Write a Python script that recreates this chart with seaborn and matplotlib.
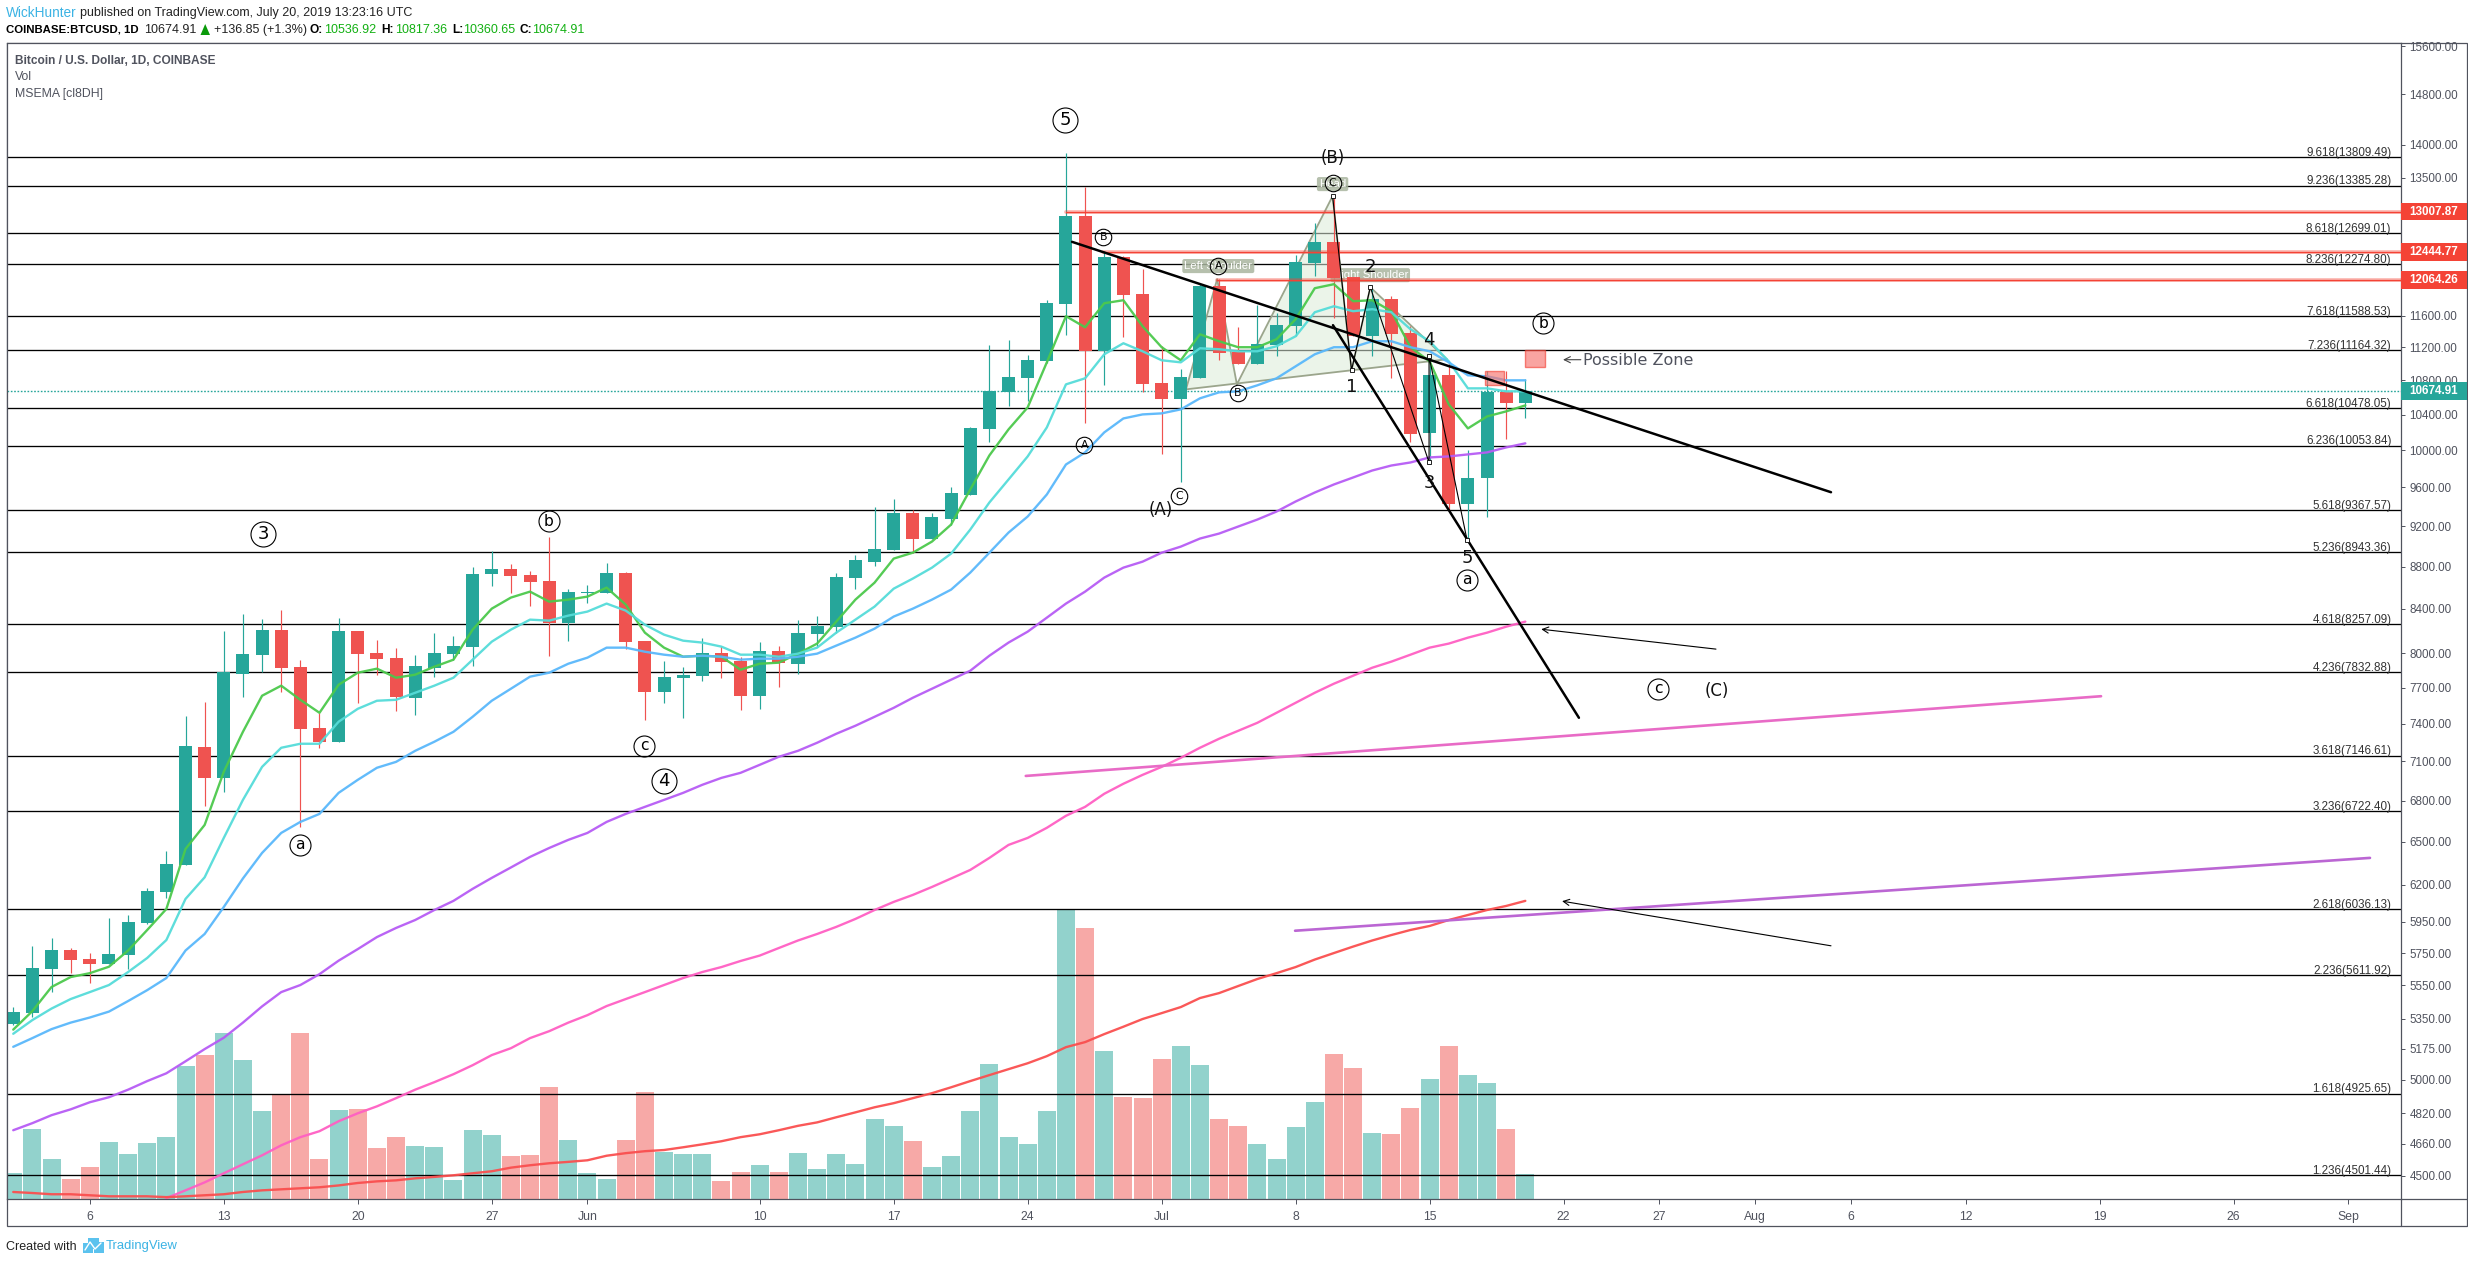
import numpy as np
import pandas as pd
import matplotlib
matplotlib.use("Agg")
import matplotlib.pyplot as plt
from matplotlib.patches import Rectangle, Polygon
from matplotlib.transforms import blended_transform_factory
import seaborn as sns

# ---- data: day number counted from 1 May 2019 = 1 (Jun d = 31+d, Jul d = 61+d ...)
days = list(range(2, 82))
opens = [5315,5383,5652,5772,5715,5683,5740,5941,6150,6336,7216,6973,7821,7986,8209,7881,7368,7256,8200,8004,
         7960,7616,7872,7995,8057,8732,8780,8722,8665,8273,8551,8551,8741,8110,7667,7786,7803,8004,7933,7633,
         8021,7907,8173,8236,8693,8847,8965,9339,9075,9277,9526,10234,10660,10826,11030,11746,12943,11153,12371,11876,
         10766,10578,10826,11981,11141,10994,11227,11465,12290,12578,12101,11339,11811,11377,10189,10862,9422,9696,10660,10536.92]
highs = [5418,5796,5849,5779,5753,5974,5993,6176,6434,7467,7583,8200,8355,8309,8392,7942,7491,8318,8200,8119,
         8048,7986,8182,8155,8799,8955,8828,8760,9095,8588,8626,8838,8751,8110,7933,7881,8137,8066,7968,8101,
         8066,8300,8337,8741,8916,9391,9484,9360,9329,9600,10256,11227,11290,11104,11798,13873,13363,12454,12385,12208,
         11215,10934,12021,12075,11452,11733,11631,12398,12843,13231,12101,11942,11850,11465,11104,11030,10000,10910,10910,10817.36]
lows = [5311,5360,5510,5627,5565,5683,5652,5935,6110,6336,6762,6867,7625,7838,7667,6607,7208,7256,7574,7812,
        7508,7475,7795,7942,7890,8617,8551,8429,7977,8110,8457,8551,8039,7434,7574,7450,7760,7786,7516,7524,
        7709,7821,8057,8182,8588,8809,8965,8936,9075,9216,9526,10088,10497,10555,11006,11352,10302,10743,11327,10660,
        9956,9653,10826,11043,10994,10994,11092,11339,12114,11567,11339,11092,10826,10088,9846,9370,9065,9298,10122,10360.65]
closes = [5388,5658,5772,5709,5683,5747,5947,6156,6343,7224,6973,7838,7995,8209,7872,7360,7256,8200,7995,7951,
          7625,7890,8004,8066,8732,8780,8713,8655,8273,8560,8557,8741,8101,7667,7795,7812,8004,7925,7633,8021,
          7916,8182,8245,8703,8867,8975,9339,9075,9288,9537,10245,10672,10838,11043,11759,12943,11153,12371,11863,10754,
          10578,10838,11981,11129,10994,11240,11478,12303,12578,12088,11339,11811,11364,10178,10862,9422,9706,10660,10532,10674.91]
volumes = [79,208,118,61,97,169,133,166,184,397,430,496,415,262,312,496,118,265,268,151,
           184,157,154,58,205,190,127,130,334,175,79,61,175,319,139,133,133,55,82,103,
           82,136,91,133,106,238,217,172,97,127,262,403,184,163,262,863,808,442,304,301,
           418,457,400,238,217,163,118,214,289,433,391,196,193,271,358,457,370,346,208,76]
ema_green = [5285,5394,5539,5600,5624,5664,5766,5898,6036,6448,6621,7020,7336,7633,7718,7599,7491,7726,7829,7864,
             7786,7812,7881,7942,8209,8401,8504,8560,8466,8485,8513,8598,8438,8182,8048,7968,7977,7968,7855,7907,
             7916,7995,8084,8282,8485,8645,8877,8935,9045,9216,9579,9945,10234,10485,11018,11592,11452,11759,11798,11465,
             11203,11043,11364,11277,11203,11203,11302,11554,11955,12008,11785,11798,11656,11203,11030,10520,10245,10381,10439,10508]
ema_cyan = [5261,5341,5409,5466,5508,5551,5631,5719,5833,6103,6250,6527,6806,7058,7208,7240,7240,7418,7524,7591,
            7599,7658,7718,7786,7942,8101,8209,8300,8291,8337,8374,8448,8383,8254,8164,8110,8093,8057,7986,7986,
            7968,7995,8048,8182,8300,8420,8588,8684,8789,8926,9165,9443,9685,9934,10256,10754,10826,11116,11252,11153,
            11043,11018,11190,11178,11153,11153,11215,11339,11643,11720,11656,11682,11643,11427,11277,11030,10707,10707,10672,10672]
ema_blue = [5186,5236,5288,5326,5356,5391,5454,5520,5594,5766,5872,6049,6242,6420,6563,6643,6702,6859,6958,7051,
            7097,7184,7256,7336,7458,7591,7692,7795,7829,7907,7960,8048,8048,8012,7986,7968,7977,7968,7942,7951,
            7951,7968,7995,8066,8137,8218,8328,8401,8485,8579,8741,8935,9135,9298,9526,9846,9978,10200,10358,10404,
            10416,10462,10590,10660,10672,10743,10826,10970,11116,11203,11203,11277,11277,11203,11153,11018,10862,10850,10802,10802]
ema_purple = [4731,4768,4810,4841,4879,4906,4947,4994,5037,5104,5173,5238,5326,5422,5508,5551,5618,5702,5775,5852,
              5911,5963,6029,6090,6171,6246,6318,6392,6455,6513,6563,6643,6702,6754,6806,6859,6920,6973,7012,7074,
              7137,7184,7248,7320,7385,7458,7532,7616,7692,7769,7846,7977,8093,8191,8318,8448,8560,8693,8789,8847,
              8935,8995,9075,9125,9196,9267,9349,9453,9547,9632,9706,9781,9835,9868,9923,9934,9956,9978,10033,10078]
pink_days = list(range(10, 82))
ema_pink = [4390,4428,4467,4512,4557,4602,4653,4695,4726,4778,4820,4857,4901,4947,4988,5032,5082,5139,5178,5236,
            5276,5326,5370,5424,5466,5508,5551,5594,5631,5662,5700,5734,5782,5830,5872,5918,5970,6029,6083,6130,
            6184,6242,6301,6385,6477,6527,6600,6688,6754,6852,6928,6996,7058,7129,7208,7280,7344,7409,7491,7574,
            7658,7735,7803,7872,7925,7986,8048,8084,8137,8182,8236,8282]
ema_red = [4420,4415,4409,4409,4404,4399,4399,4399,4395,4399,4404,4409,4420,4428,4433,4438,4443,4452,4464,4472,
           4477,4487,4494,4502,4512,4522,4540,4552,4562,4569,4577,4600,4613,4623,4629,4643,4658,4674,4695,4710,
           4731,4754,4772,4799,4825,4852,4874,4901,4928,4960,4994,5027,5060,5093,5133,5184,5213,5259,5302,5347,
           5382,5418,5472,5502,5545,5588,5624,5662,5709,5750,5791,5830,5865,5898,5924,5963,5996,6029,6056,6090]

fib_ratios = ["9.618","9.236","8.618","8.236","7.618","7.236","6.618","6.236","5.618","5.236","4.618","4.236",
              "3.618","3.236","2.618","2.236","1.618","1.236"]
fib_prices = [13809.49,13385.28,12699.01,12274.80,11588.53,11164.32,10478.05,10053.84,9367.57,8943.36,8257.09,
              7832.88,7146.61,6722.40,6036.13,5611.92,4925.65,4501.44]
y_ticks = [15600,14800,14000,13500,12000,11600,11200,10800,10400,10000,9600,9200,8800,8400,8000,7700,7400,7100,
           6800,6500,6200,5950,5750,5550,5350,5175,5000,4820,4660,4500]
x_tick_days = [6,13,20,27,32,41,48,55,62,69,76,83,88,93,98,104,111,118,124]
x_tick_labels = ["6","13","20","27","Jun","10","17","24","Jul","8","15","22","27","Aug","6","12","19","26","Sep"]
red_levels = [13007.87,12444.77,12064.26]
red_level_starts = [57.0,58.95,64.9]
last_price = 10674.91
trend_main = ([57.32,96.97],[12581,9550])
trend_steep = ([70.95,83.8],[11478,7450])
trend_pink = ([54.9,111.08],[6988,7629])
trend_purple = ([68.97,125.13],[5893,6385])
wave_days = [70.93,71.92,72.9,75.97,75.97,77.95]
wave_prices = [13231,10923,11968,9868,11092,9065]
hs_days = [63.27,64.9,65.93,70.93,71.92,72.9,76.9]
hs_prices = [10695,12075,10754,13231,10923,11968,11055]
zones = [(81.0,82.04,10961,11164),(78.9,79.9,10746,10918)]
circled = [("3",15.05,9125,25,18),("b",29.97,9250,21,15.5),("c",34.96,7226,21,15.5),
           ("4",36,6952,25,18),("a",17,6477,21,15.5),("5",56.96,14387,25,18),
           ("B",58.96,12643,16.5,11),("A",57.96,10065,16.5,11),("C",62.92,9513,16.5,11),
           ("B",65.97,10656,16.5,11),("A",64.96,12253,16.5,11),("C",70.93,13420,16.5,11),
           ("a",77.96,8674,21,15.5),("b",81.94,11503,21,15.5),("c",87.95,7692,21,15.5)]
plain_labels = [("(B)",70.96,13798,12),("(A)",61.97,9370,12),("(C)",90.99,7670,12),
                ("1",71.93,10719,13),("2",72.92,12233,13),("3",75.97,9650,13),("4",75.97,11294,13),("5",77.96,8880,13)]
shoulder_labels = [("Left Shoulder",64.96,12250),("Head",70.93,13407),("Right Shoulder",72.9,12128)]

# ---- figure
W, H = 2468, 1262
sns.set_theme(style="white")
plt.rcParams['font.family'] = ['Liberation Sans', 'DejaVu Sans']
fig = plt.figure(figsize=(W/100, H/100), dpi=100, facecolor="white")
L, R, T, B = 6.6, 2401, 43, 1199
ax2 = fig.add_axes([L/W, 1-B/H, (R-L)/W, (B-T)/H])
ax = ax2.twinx()
ax.set_zorder(3); ax2.set_zorder(1); ax.patch.set_visible(False)

UP, DOWN = "#26a69a", "#ef5350"
GRAY = "#50535e"
df = pd.DataFrame(dict(day=days, o=opens, h=highs, l=lows, c=closes, vol=volumes))
df["dir"] = np.where(df.c >= df.o, "up", "down")

sns.barplot(data=df, x="day", y="vol", hue="dir", hue_order=["up", "down"],
            palette={"up": "#92d2cc", "down": "#f7a9a7"}, native_scale=True, dodge=False,
            width=0.94, saturation=1, legend=False, linewidth=0, ax=ax2)
ax2.set_ylim(0, 3452)
ax2.set_yticks([]); ax2.set_xlabel(""); ax2.set_ylabel("")
for s in ax2.spines.values():
    s.set_visible(False)

ax.set_yscale("log")
# Fibonacci levels
for lv in fib_prices:
    ax.axhline(lv, color="black", lw=0.95, zorder=1)

# head and shoulders pattern
tri = [(0,1,2),(2,3,4),(4,5,6)]
def base_at(x):
    return float(np.exp(np.interp(x, [hs_days[0], hs_days[6]], np.log([hs_prices[0], hs_prices[6]]))))
for a, b, c in tri:
    pts = [(hs_days[a], base_at(hs_days[a])), (hs_days[b], hs_prices[b]), (hs_days[c], base_at(hs_days[c]))]
    ax.add_patch(Polygon(pts, closed=True, fc="#dcebd8", ec="none", alpha=0.55, zorder=1.5))
ax.plot(hs_days, hs_prices, color="#9ba58c", lw=1.3, zorder=1.6)
ax.plot([hs_days[0], hs_days[6]], [hs_prices[0], hs_prices[6]], color="#9ba58c", lw=1.3, zorder=1.6)

# candles
ax.vlines(df.day, df.l, df.h, colors=np.where(df.c >= df.o, UP, DOWN), lw=0.85, zorder=2)
ax.bar(df.day, (df[["o","c"]].max(axis=1)-df[["o","c"]].min(axis=1)), bottom=df[["o","c"]].min(axis=1),
       width=0.68, color=np.where(df.c >= df.o, UP, DOWN), zorder=2.1, linewidth=0)

# moving averages
ema_frame = [(days, ema_green, "#4cc94c"), (days, ema_cyan, "#55dcd9"), (days, ema_blue, "#5ab8fb"),
             (days, ema_purple, "#b75cf5"), (pink_days, ema_pink, "#ff5fc3"), (days, ema_red, "#fa4f4f")]
for xs, ys, col in ema_frame:
    sns.lineplot(x=xs, y=ys, color=col, lw=1.7, alpha=0.95, ax=ax, zorder=3, legend=False)

# price lines
for lv, st in zip(red_levels, red_level_starts):
    ax.plot([st, 127], [lv, lv], color="#f44336", lw=2.8, alpha=0.35, zorder=3.2)
    ax.plot([st, 127], [lv, lv], color="#f44336", lw=1.0, zorder=3.3)
ax.axhline(last_price, color=UP, lw=1.0, ls=(0, (1.2, 1.2)), zorder=1.2)

# zones
for x0, x1, p0, p1 in zones:
    ax.add_patch(Rectangle((x0, p0), x1-x0, p1-p0, fc="#f7736f", ec="#f44336", alpha=0.65, lw=1, zorder=3.4))

# trend lines
ax.plot(*trend_main, color="black", lw=1.8, zorder=4)
ax.plot(*trend_steep, color="black", lw=1.8, zorder=4)
ax.plot(wave_days, wave_prices, color="black", lw=0.8, marker="s", ms=2.4, mfc="white", mec="black", mew=0.6, zorder=4)
ax.plot(*trend_pink, color="#e86bc6", lw=1.9, zorder=3.6)
ax.plot(*trend_purple, color="#bb66d3", lw=1.9, zorder=3.6)

# arrows
arrow = dict(arrowstyle="->", color="black", lw=0.8, mutation_scale=11, shrinkA=0, shrinkB=0)
ax.annotate("", xy=(81.83, 8213), xytext=(90.96, 8035), arrowprops=arrow, zorder=4)
ax.annotate("", xy=(82.92, 6088), xytext=(96.97, 5796), arrowprops=arrow, zorder=4)
ax.annotate("", xy=(82.97, 11050), xytext=(83.9, 11050), arrowprops=dict(arrow, color="#444444"), zorder=4)
ax.text(84.0, 11043, "Possible Zone", fontsize=11.5, family="DejaVu Sans", color="#50535e", va="center", ha="left", zorder=4.5)

# labels
for t, x, y, d, fs in circled:
    ax.plot([x], [y], "o", ms=d*0.72, mfc="none", mec="black", mew=0.8, zorder=5)
    ax.text(x, y, t, fontsize=fs*0.72, family="DejaVu Sans", ha="center", va="center", color="black", zorder=5)
for t, x, y, fs in plain_labels:
    ax.text(x, y, t, fontsize=fs, family="DejaVu Sans", ha="center", va="center", color="#111111", zorder=5)
for t, x, y in shoulder_labels:
    ax.text(x, y, t, fontsize=8.2, color="white", ha="center", va="center", zorder=2.05,
            bbox=dict(boxstyle="round,pad=0.18", fc="#a9b59f", ec="none", alpha=0.85))

# fib labels
lab_tr = blended_transform_factory(ax.transAxes, ax.transData)
for r, p in zip(fib_ratios, fib_prices):
    ax.annotate(f"{r}({p:.2f})", xy=(1, p), xycoords=lab_tr, xytext=(-7, -1.3), textcoords="offset points",
                fontsize=8.4, color="#333333", ha="right", va="bottom", zorder=5)

# axes
ax.set_xlim(1.653, 126.75)
ax.set_ylim(4386, 15660)
ax.set_xticks(x_tick_days); ax.set_xticklabels(x_tick_labels)
ax2.set_xticks(x_tick_days); ax2.set_xticklabels(x_tick_labels)
ax2.xaxis.set_visible(True)
ax.xaxis.set_visible(False)
ax2.tick_params(axis="x", bottom=True, length=3.6, width=0.7, color=GRAY, labelcolor=GRAY, labelsize=8.8, pad=5)
ax.yaxis.set_major_locator(matplotlib.ticker.FixedLocator(y_ticks))
ax.yaxis.set_major_formatter(matplotlib.ticker.FormatStrFormatter("%.2f"))
ax.yaxis.set_minor_locator(matplotlib.ticker.NullLocator())
ax.tick_params(axis="y", right=True, left=False, length=3.2, width=0.7, color=GRAY, labelcolor=GRAY, labelsize=8.4, pad=2.8)
for name, s in ax.spines.items():
    s.set_visible(True); s.set_color(GRAY); s.set_linewidth(0.9)

# outer frame extension
fig.add_artist(Rectangle((L/W, 1-1226/H), (2467-L)/W, (1226-T)/H, transform=fig.transFigure, fc="none", ec=GRAY, lw=0.9))
fig.add_artist(plt.Line2D([R/W, R/W], [1-1226/H, 1-B/H], color=GRAY, lw=0.9))
fig.add_artist(plt.Line2D([R/W, 2467/W], [1-B/H, 1-B/H], color=GRAY, lw=0.9))

# price tags
for lv, col in [(13007.87, "#f44336"), (12444.77, "#f44336"), (12064.26, "#f44336"), (last_price, UP)]:
    ax.add_patch(Rectangle((1, lv/1.0098), 66/(R-L), lv*1.0098-lv/1.0098, transform=lab_tr, fc=col, ec="none", clip_on=False, zorder=10))
    ax.annotate(f"{lv:.2f}", xy=(1, lv), xycoords=lab_tr, xytext=(5.8, 0), textcoords="offset points",
                fontsize=8.4, fontweight="bold", color="white", va="center", ha="left", zorder=11, annotation_clip=False)

# header, legend and footer text
def T_(x, y, s, **k):
    fig.text(x/W, 1-y/H, s, va="center", ha="left", **k)
T_(6, 12.7, "WickHunter", fontsize=9.8, color="#3bb3e4")
T_(80, 12.7, "published on TradingView.com, July 20, 2019 13:23:16 UTC", fontsize=9.0, color="#222222")
T_(6, 29.7, "COINBASE:BTCUSD, 1D", fontsize=8.2, fontweight="bold", color="black")
T_(144, 29.7, "10674.91", fontsize=9.0, color="#222222")
fig.add_artist(Polygon([(200.5/W,1-35/H),(210/W,1-35/H),(205.2/W,1-24/H)], transform=fig.transFigure, fc="#0a9a0a", ec="none"))
T_(214, 29.7, "+136.85 (+1.3%)", fontsize=9.0, color="#222222")
for x, s in [(310, "O:"), (381, "H:"), (452, "L:"), (520, "C:")]:
    T_(x, 29.7, s, fontsize=8.6, fontweight="bold", color="black")
for x, s in [(324, "10536.92"), (395, "10817.36"), (463, "10360.65"), (532, "10674.91")]:
    T_(x, 29.7, s, fontsize=9.0, color="#12b012")
T_(15, 60.5, "Bitcoin / U.S. Dollar, 1D, COINBASE", fontsize=8.6, fontweight="bold", color=GRAY)
T_(15, 77.5, "Vol", fontsize=8.8, color=GRAY)
T_(15, 94.5, "MSEMA [cl8DH]", fontsize=8.8, color=GRAY)
T_(6, 1246.5, "Created with", fontsize=9.0, color="#222222")
T_(106, 1246.5, "TradingView", fontsize=9.4, color="#3bb3e4")
for cx, cy, r in [(88, 1248, 5.2), (93, 1243.5, 5.5), (99, 1247.5, 5.4)]:
    fig.add_artist(Rectangle(((cx-r)/W, 1-(cy+r)/H), 2*r/W, 2*r/H, transform=fig.transFigure, fc="#5bc2ee", ec="none"))
fig.add_artist(plt.Line2D([85/W, 90/W, 95/W, 101/W], [1-1250/H, 1-1242/H, 1-1249/H, 1-1243/H], color="white", lw=1.0))

fig.savefig("out.png", dpi=100, facecolor="white")
